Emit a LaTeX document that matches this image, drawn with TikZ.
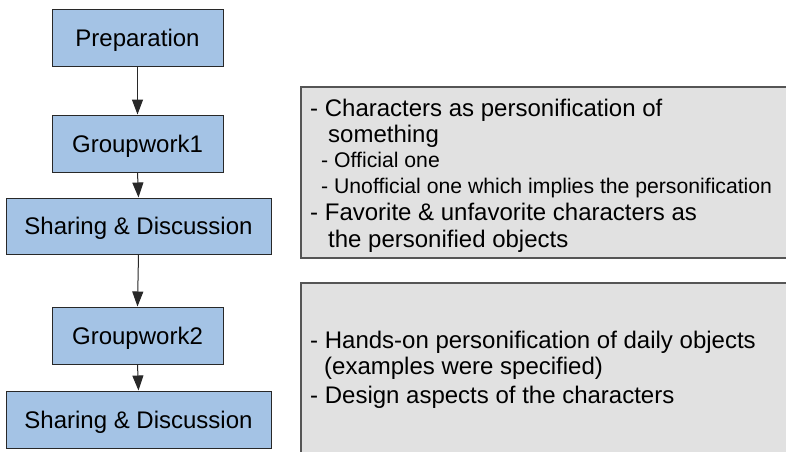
\documentclass[tikz,border=0pt]{standalone}
\usepackage{fontspec}
\setmainfont{Liberation Sans}
\usetikzlibrary{arrows.meta}
\definecolor{stepblue}{RGB}{164,195,229}
\definecolor{stepline}{RGB}{40,40,40}
\definecolor{notegray}{RGB}{225,225,225}
\definecolor{noteline}{RGB}{85,85,85}
\tikzset{
  stepbox/.style={draw=stepline, line width=1pt, fill=stepblue, rectangle, inner sep=0pt,
    text height=17.5pt, text depth=0pt,
    font=\fontsize{24}{28}\selectfont, text=black},
  flow/.style={draw=stepline, line width=1pt, -{Triangle[length=15pt,width=11pt]}},
  notebox/.style={draw=noteline, line width=1.4pt, fill=notegray},
  bigline/.style={anchor=base west, inner sep=0pt, font=\fontsize{24}{28}\selectfont},
  smallline/.style={anchor=base west, inner sep=0pt, font=\fontsize{21.2}{24}\selectfont},
}
\begin{document}
\begin{tikzpicture}[x=1pt,y=-1pt]
\useasboundingbox (0,0) rectangle (786,451);
\clip (0,0) rectangle (786,451);
\fill[white] (0,0) rectangle (786,451);
% flow boxes
\node[stepbox, minimum width=171pt, minimum height=57pt] (prep) at (137.5,37.5) {Preparation};
\node[stepbox, minimum width=171pt, minimum height=57pt] (gw1) at (137.5,143.5) {Groupwork1};
\node[stepbox, minimum width=265pt, minimum height=56pt] (sd1) at (138.5,226) {Sharing \& Discussion};
\node[stepbox, minimum width=171pt, minimum height=57pt] (gw2) at (137.5,335.5) {Groupwork2};
\node[stepbox, minimum width=265pt, minimum height=57pt] (sd2) at (138.5,419.5) {Sharing \& Discussion};
% connectors
\draw[flow] (prep.south) -- (gw1.north);
\draw[flow] (gw1.south) -- (sd1.north);
\draw[flow] (sd1.south) -- (gw2.north);
\draw[flow] (gw2.south) -- (sd2.north);
% note boxes
\draw[notebox] (301,87) rectangle (795,258);
\draw[notebox] (301,283) rectangle (795,465);
% note 1 text
\node[bigline] (n1a) at (310,116) {- Characters as personification of};
\node[bigline] (n1b) at (328,142) {something};
\node[smallline] (n1c) at (321,167) {- Official one};
\node[smallline] (n1d) at (321,193) {- Unofficial one which implies the personification};
\node[bigline] (n1e) at (310,220) {- Favorite \& unfavorite characters as};
\node[bigline] (n1f) at (328,247) {the personified objects};
% note 2 text
\node[bigline] (n2a) at (310,348) {- Hands-on personification of daily objects};
\node[bigline] (n2b) at (324,374) {(examples were specified)};
\node[bigline] (n2c) at (310,403) {- Design aspects of the characters};
\end{tikzpicture}
\end{document}
